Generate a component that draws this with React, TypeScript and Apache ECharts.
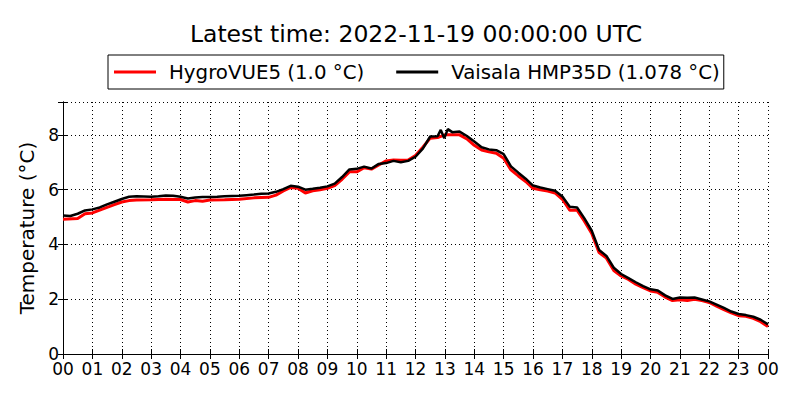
import React, { useEffect, useRef } from "react";
import * as echarts from "echarts";

const titleText = "Latest time: 2022-11-19 00:00:00 UTC";
const seriesNames = ["HygroVUE5 (1.0 °C)", "Vaisala HMP35D (1.078 °C)"];

// hours since 2022-11-18 00:00 UTC
const vaisalaHours = [0,0.25,0.5,0.75,1,1.25,1.5,1.75,2,2.25,2.5,2.75,3,3.25,3.5,3.75,4,4.25,4.5,4.75,5,5.25,5.5,5.75,6,6.25,6.5,6.75,7,7.25,7.5,7.75,8,8.25,8.5,8.75,9,9.25,9.5,9.75,10,10.25,10.5,10.75,11,11.25,11.5,11.75,12,12.25,12.5,12.75,12.86,12.98,13.1,13.25,13.5,13.75,14,14.25,14.5,14.75,15,15.25,15.5,15.75,16,16.25,16.5,16.75,17,17.25,17.5,17.75,18,18.25,18.5,18.75,19,19.25,19.5,19.75,20,20.25,20.5,20.75,21,21.25,21.5,21.75,22,22.25,22.5,22.75,23,23.25,23.5,23.75,24];
const vaisalaTemp = [5.06,5.04,5.12,5.24,5.28,5.35,5.46,5.56,5.66,5.74,5.76,5.75,5.74,5.76,5.79,5.78,5.74,5.68,5.71,5.73,5.73,5.74,5.76,5.77,5.78,5.8,5.82,5.85,5.86,5.92,6.02,6.14,6.11,6.0,6.03,6.07,6.12,6.22,6.46,6.74,6.76,6.84,6.77,6.94,6.97,7.05,7.0,7.05,7.2,7.5,7.94,7.95,8.18,7.88,8.21,8.1,8.12,7.96,7.76,7.55,7.47,7.44,7.3,6.85,6.62,6.4,6.15,6.08,6.02,5.96,5.75,5.38,5.35,4.95,4.5,3.8,3.58,3.15,2.92,2.77,2.62,2.48,2.36,2.32,2.14,2.01,2.06,2.05,2.06,1.99,1.92,1.8,1.68,1.55,1.46,1.42,1.36,1.25,1.08];

const hygroHours = [0,0.5,0.75,1,1.25,1.5,1.75,2,2.25,2.5,3,3.5,4,4.25,4.5,4.75,5,5.5,6,6.5,7,7.25,7.5,7.75,8,8.25,8.5,8.75,9,9.25,9.5,9.75,10,10.25,10.5,10.75,11,11.25,11.5,11.75,12,12.25,12.5,12.75,13,13.25,13.5,13.75,14,14.25,14.5,14.75,15,15.25,15.5,15.75,16,16.25,16.5,16.75,17,17.25,17.5,17.75,18,18.25,18.5,18.75,19,19.25,19.5,19.75,20,20.25,20.5,20.75,21,21.25,21.5,21.75,22,22.25,22.5,22.75,23,23.25,23.5,23.75,24];
const hygroTemp = [4.92,4.95,5.12,5.15,5.25,5.35,5.45,5.55,5.6,5.62,5.63,5.65,5.64,5.55,5.6,5.58,5.62,5.63,5.65,5.7,5.72,5.8,5.95,6.08,6.05,5.88,5.96,6.0,6.05,6.15,6.38,6.65,6.65,6.8,6.75,6.9,7.05,7.08,7.07,7.08,7.25,7.55,7.88,7.9,8.0,8.0,8.0,7.85,7.62,7.45,7.38,7.33,7.15,6.72,6.5,6.3,6.05,6.0,5.95,5.88,5.65,5.25,5.25,4.85,4.4,3.7,3.5,3.05,2.85,2.72,2.55,2.42,2.3,2.25,2.08,1.95,1.98,1.95,2.0,1.95,1.88,1.75,1.62,1.5,1.4,1.38,1.3,1.18,1.0];

const FONT = "DejaVu Sans";

export default function App() {
  const ref = useRef<HTMLDivElement>(null);
  useEffect(() => {
    if (!ref.current) return;
    const chart = echarts.init(ref.current, undefined, { renderer: "svg" });
    const hourLabel = (v: number) => String(Math.round(v) % 24).padStart(2, "0");
    const tickCommon = { show: true, inside: true, length: 5, lineStyle: { color: "#000", width: 1 } };
    const lineCommon = { show: true, lineStyle: { color: "#000", width: 1 } };
    chart.setOption({
      animation: false,
      backgroundColor: "#fff",
      textStyle: { fontFamily: FONT },
      title: {
        text: titleText,
        left: 411,
        top: 17,
        textAlign: "center",
        textStyle: { fontFamily: FONT, fontSize: 23.5, fontWeight: "normal", color: "#000" },
      },
      legend: {
        left: 108,
        top: 55,
        width: 640,
        padding: [5, 4, 5, 6],
        borderColor: "#000",
        borderWidth: 1,
        borderRadius: 0,
        itemGap: 32,
        itemWidth: 42,
        itemHeight: 3,
        icon: "rect",
        textStyle: { fontFamily: FONT, fontSize: 19.8, lineHeight: 24, color: "#000", padding: [0, 0, 0, 8] },
        data: seriesNames,
      },
      grid: { left: 63, right: 32, top: 102, bottom: 46, containLabel: false },
      xAxis: [
        {
          type: "value",
          min: 0,
          max: 24,
          interval: 1,
          axisLine: lineCommon,
          axisTick: tickCommon,
          axisLabel: { formatter: hourLabel, fontFamily: FONT, fontSize: 17, color: "#000", margin: 6 },
          splitLine: { show: true, lineStyle: { color: "#000", type: [1, 3], width: 1 } },
        },
        {
          type: "value",
          position: "top",
          min: 0,
          max: 24,
          interval: 1,
          axisLine: lineCommon,
          axisTick: tickCommon,
          axisLabel: { show: false },
          splitLine: { show: false },
        },
      ],
      yAxis: [
        {
          type: "value",
          min: 0,
          max: 9.2,
          interval: 2,
          name: "Temperature (°C)",
          nameLocation: "middle",
          nameGap: 21,
          nameRotate: 90,
          nameTextStyle: { fontFamily: FONT, fontSize: 20, color: "#000" },
          axisLine: lineCommon,
          axisTick: tickCommon,
          axisLabel: {
            formatter: (v: number) => (Math.abs(v % 2) < 1e-6 ? String(v) : ""),
            fontFamily: FONT,
            fontSize: 17,
            color: "#000",
            margin: 4,
          },
          splitLine: { show: true, lineStyle: { color: "#000", type: [1, 3], width: 1 } },
        },
        {
          type: "value",
          position: "right",
          min: 0,
          max: 9.2,
          interval: 2,
          axisLine: lineCommon,
          axisTick: tickCommon,
          axisLabel: { show: false },
          splitLine: { show: false },
        },
      ],
      series: [
        {
          name: seriesNames[0],
          type: "line",
          data: hygroHours.map((h, i) => [h, hygroTemp[i]]),
          showSymbol: false,
          symbol: "none",
          lineStyle: { color: "#ff0000", width: 3 },
          itemStyle: { color: "#ff0000" },
          z: 2,
        },
        {
          name: seriesNames[1],
          type: "line",
          data: vaisalaHours.map((h, i) => [h, vaisalaTemp[i]]),
          showSymbol: false,
          symbol: "none",
          lineStyle: { color: "#000000", width: 2.5 },
          itemStyle: { color: "#000000" },
          z: 3,
        },
      ],
    });
    return () => chart.dispose();
  }, []);
  return <div ref={ref} style={{ width: 800, height: 400, position: "absolute", left: 0, top: 0 }} />;
}
